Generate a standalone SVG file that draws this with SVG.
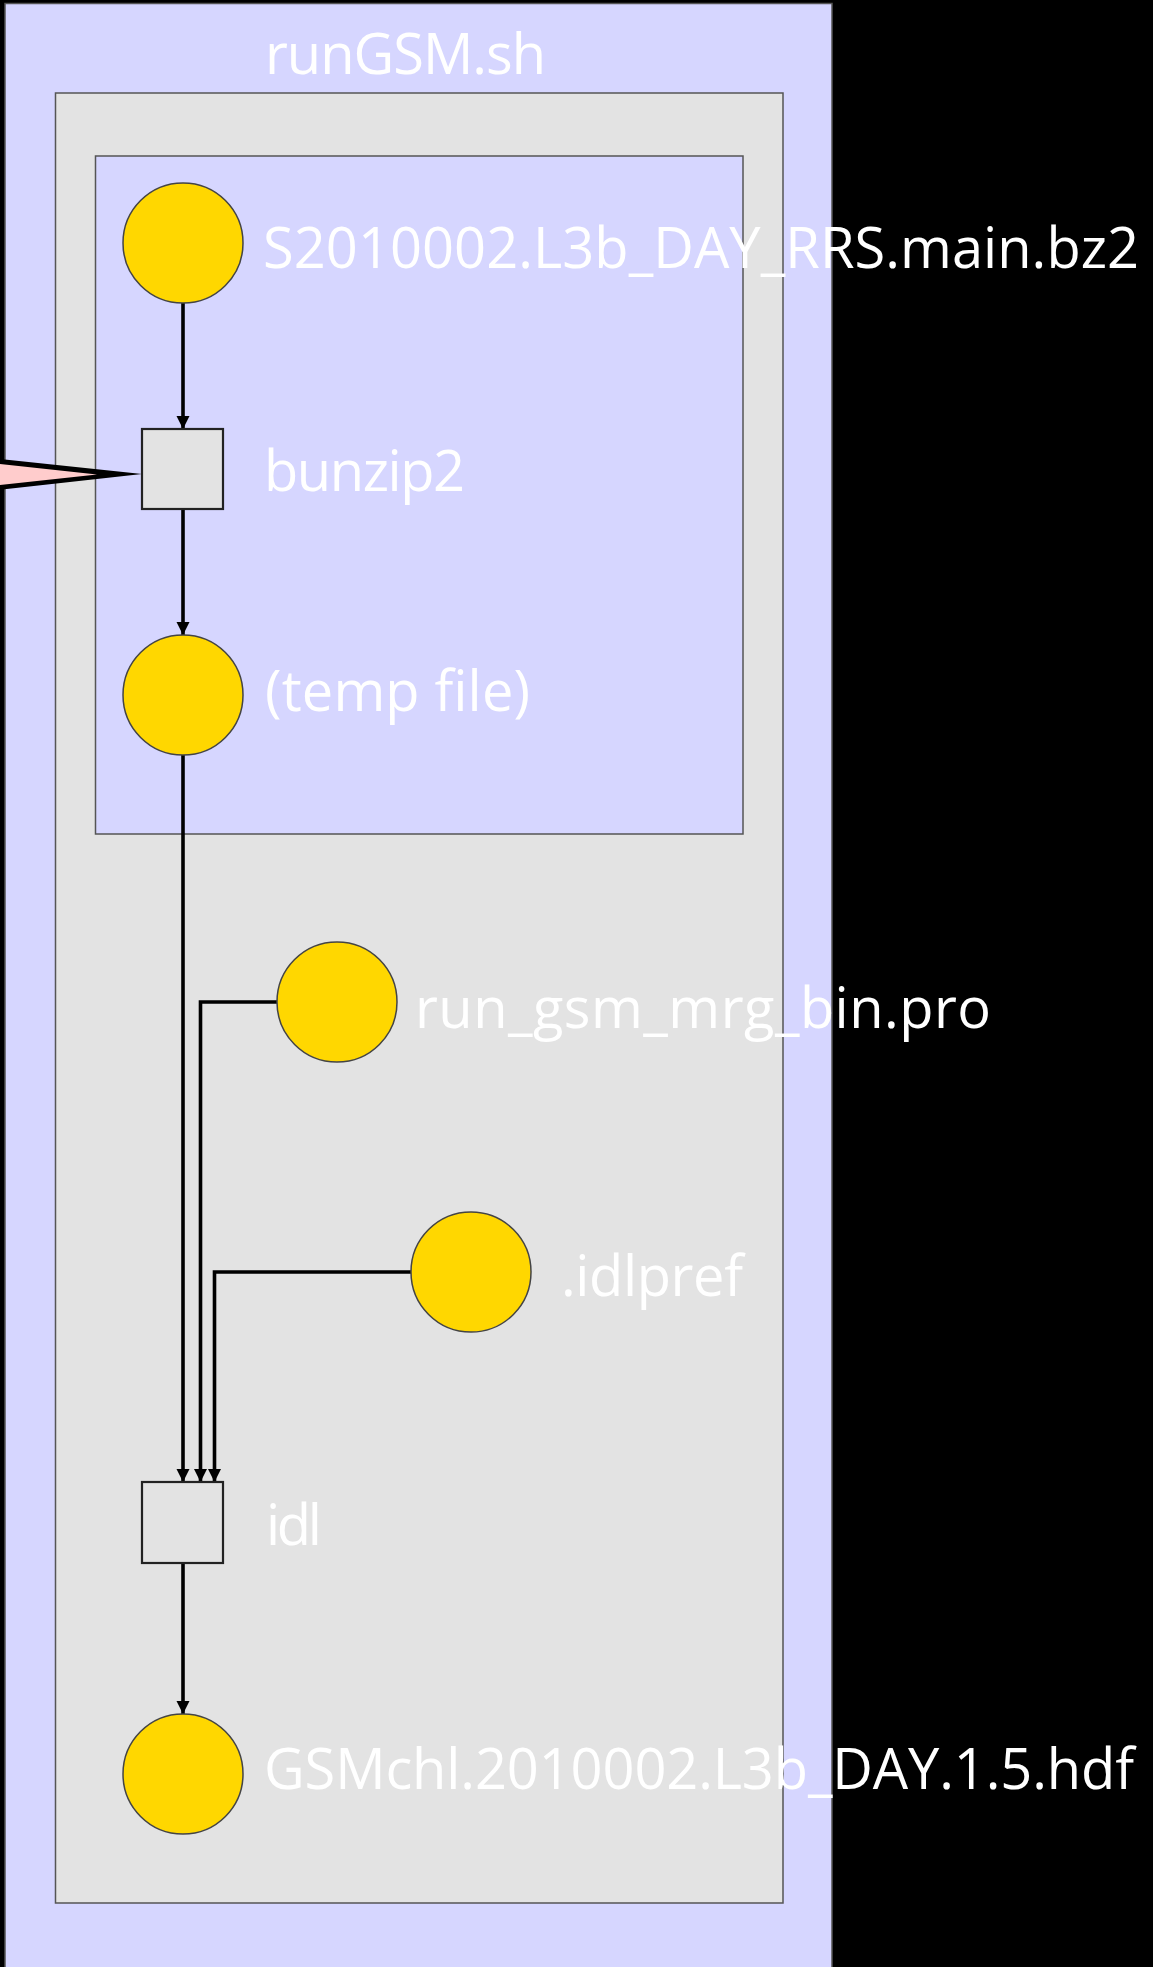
<svg xmlns="http://www.w3.org/2000/svg" width="1153" height="1967" viewBox="0 0 1153 1967">
<defs>
<style>
.lbl{font-family:"Open Sans","Liberation Sans",sans-serif;font-size:56px;fill:#ffffff;}
.file{fill:#FFD700;stroke:#444444;stroke-width:1.5;}
.proc{fill:#E3E3E3;stroke:#222222;stroke-width:2.2;}
.edge{fill:none;stroke:#000000;stroke-width:3.6;marker-end:url(#arr);}
.cluster-blue{fill:#D6D6FF;stroke:#555555;stroke-width:1.5;}
.cluster-gray{fill:#E3E3E3;stroke:#555555;stroke-width:1.5;}
</style>
<marker id="arr" markerUnits="userSpaceOnUse" markerWidth="14" markerHeight="14" refX="13" refY="7" orient="auto">
<path d="M0,0.5 L13,7 L0,13.5 Z" fill="#000000"/>
</marker>
</defs>
<rect x="0" y="0" width="1153" height="1967" fill="#000000"/>
<g id="cluster-runGSM">
<rect class="cluster-blue" x="5" y="3.5" width="827" height="1970"/>
<text class="lbl" x="265" y="74" textLength="281">runGSM.sh</text>
</g>
<g id="cluster-gray">
<rect class="cluster-gray" x="55.5" y="93" width="727.5" height="1810"/>
</g>
<g id="cluster-bunzip">
<rect class="cluster-blue" x="95.5" y="156" width="647.5" height="678"/>
</g>
<g id="connectors">
<path class="edge" d="M183,303 V429"/>
<path class="edge" d="M183,509 V635"/>
<path class="edge" d="M183,755 V1482"/>
<path class="edge" d="M277,1002 H200.5 V1482"/>
<path class="edge" d="M411,1272 H214.5 V1482"/>
<path class="edge" d="M183,1563 V1714"/>
<g id="wedge">
<polygon points="-100,448.4 142,474 -100,501" fill="#000000"/>
<polygon points="-100,453.2 97,474.5 -100,495.8" fill="#FFCCCC"/>
</g>
</g>
<g id="node-s2010002">
<circle class="file" cx="183" cy="243" r="60"/>
<text class="lbl" x="263" y="268" textLength="876">S2010002.L3b_DAY_RRS.main.bz2</text>
</g>
<g id="node-bunzip2">
<rect class="proc" x="142" y="429" width="81" height="80"/>
<text class="lbl" x="264" y="491" textLength="201">bunzip2</text>
</g>
<g id="node-temp">
<circle class="file" cx="183" cy="695" r="60"/>
<text class="lbl" x="265" y="711" textLength="265">(temp file)</text>
</g>
<g id="node-run-gsm">
<circle class="file" cx="337" cy="1002" r="60"/>
<text class="lbl" x="415" y="1028" textLength="576">run_gsm_mrg_bin.pro</text>
</g>
<g id="node-idlpref">
<circle class="file" cx="471" cy="1272" r="60"/>
<text class="lbl" x="561" y="1296" textLength="182">.idlpref</text>
</g>
<g id="node-idl">
<rect class="proc" x="142" y="1482" width="81" height="81"/>
<text class="lbl" x="266" y="1545" textLength="56">idl</text>
</g>
<g id="node-gsmchl">
<circle class="file" cx="183" cy="1774" r="60"/>
<text class="lbl" x="264" y="1789" textLength="870">GSMchl.2010002.L3b_DAY.1.5.hdf</text>
</g>
</svg>
